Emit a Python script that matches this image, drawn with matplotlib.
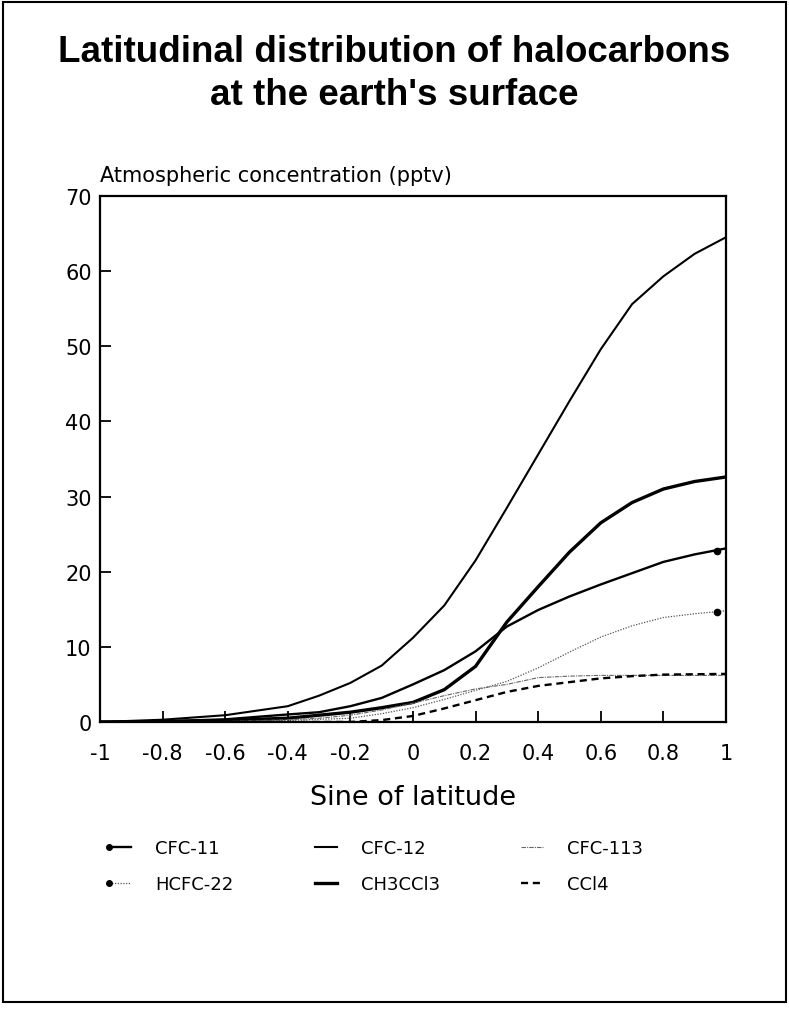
import matplotlib.pyplot as plt
from matplotlib.legend_handler import HandlerLine2D
from matplotlib.lines import Line2D
from matplotlib.patches import Rectangle

# ----------------------------------------------------------------- data
SINE = [-1.0, -0.8, -0.6, -0.4, -0.3, -0.2, -0.1, 0.0, 0.1, 0.2, 0.3, 0.4, 0.5,
        0.6, 0.7, 0.8, 0.9, 1.0]

CFC12 = [0.0, 0.3, 0.9, 2.1, 3.5, 5.2, 7.5, 11.2, 15.5, 21.5, 28.5, 35.6, 42.7,
         49.6, 55.6, 59.3, 62.3, 64.5]
CH3CCL3 = [0.0, 0.05, 0.2, 0.5, 0.9, 1.3, 1.9, 2.6, 4.3, 7.4, 13.3, 18.0, 22.6,
           26.5, 29.2, 31.0, 32.0, 32.6]
CFC11 = [0.0, 0.1, 0.35, 1.0, 1.3, 2.1, 3.2, 5.0, 6.9, 9.4, 12.7, 14.9, 16.7,
         18.3, 19.8, 21.3, 22.3, 23.1]
HCFC22 = [0.0, 0.0, 0.05, 0.2, 0.35, 0.5, 1.1, 1.9, 3.0, 4.2, 5.4, 7.2, 9.3,
          11.3, 12.8, 13.9, 14.4, 14.8]
CFC113 = [0.0, 0.0, 0.05, 0.3, 0.5, 0.9, 1.6, 2.5, 3.5, 4.4, 5.0, 5.9, 6.1,
          6.2, 6.2, 6.2, 6.2, 6.2]
CCL4 = [0.0, 0.0, 0.0, 0.0, 0.0, 0.0, 0.25, 0.8, 1.8, 2.9, 4.0, 4.8, 5.3,
        5.8, 6.1, 6.3, 6.35, 6.4]

# end markers for CFC-11 and HCFC-22 (drawn just inside the right edge)
MARK_X = 0.97
MARK_CFC11 = 22.8
MARK_HCFC22 = 14.6

X_TICKS = [-1, -0.8, -0.6, -0.4, -0.2, 0, 0.2, 0.4, 0.6, 0.8, 1]
X_TICK_LABELS = ["-1", "-0.8", "-0.6", "-0.4", "-0.2", "0", "0.2", "0.4", "0.6", "0.8", "1"]
Y_TICKS = [0, 10, 20, 30, 40, 50, 60, 70]

# ----------------------------------------------------------------- style
plt.rcParams["font.family"] = ["DejaVu Sans"]
TITLE_FONT = ["Liberation Sans", "DejaVu Sans"]

STYLES = {
    "CFC-11": dict(color="black", lw=1.7, ls="-"),
    "CFC-12": dict(color="black", lw=1.5, ls="-"),
    "CFC-113": dict(color="#666666", lw=0.8, ls=(0, (4, 1, 1, 1))),
    "HCFC-22": dict(color="#555555", lw=0.9, ls=(0, (1, 1.2))),
    "CH3CCl3": dict(color="black", lw=2.4, ls="-"),
    "CCl4": dict(color="black", lw=1.7, ls=(0, (3, 2))),
}


class MarkerFirst(HandlerLine2D):
    """Legend line with its marker only at the left end."""

    def create_artists(self, *args, **kwargs):
        arts = super().create_artists(*args, **kwargs)
        for a in arts:
            a.set_markevery([0])
        return arts


# ----------------------------------------------------------------- figure
fig = plt.figure(figsize=(7.89, 10.12), dpi=100)
fig.patches.append(Rectangle((0.004, 0.009), 0.992, 0.988, transform=fig.transFigure,
                             fill=False, lw=1.5, ec="black"))

ax = fig.add_axes([0.1267, 0.2856, 0.7934, 0.5198])

ax.plot(SINE, CFC12, **STYLES["CFC-12"])
ax.plot(SINE, CH3CCL3, **STYLES["CH3CCl3"])
ax.plot(SINE, CFC11, **STYLES["CFC-11"])
ax.plot(SINE, HCFC22, **STYLES["HCFC-22"])
ax.plot(SINE, CFC113, **STYLES["CFC-113"])
ax.plot(SINE, CCL4, **STYLES["CCl4"])
ax.plot([MARK_X], [MARK_CFC11], "o", color="black", ms=4.5)
ax.plot([MARK_X], [MARK_HCFC22], "o", color="black", ms=4.5)

ax.set_xlim(-1, 1)
ax.set_ylim(0, 70)
ax.set_xticks(X_TICKS)
ax.set_xticklabels(X_TICK_LABELS)
ax.set_yticks(Y_TICKS)
ax.tick_params(direction="in", length=8, width=1.3, labelsize=15)
ax.tick_params(axis="x", pad=15)
ax.tick_params(axis="y", pad=6)
for s in ax.spines.values():
    s.set_linewidth(1.6)

ax.set_xlabel("Sine of latitude", fontsize=19.5, labelpad=15)
fig.text(100 / 789, 1 - 182 / 1012, "Atmospheric concentration (pptv)", fontsize=15,
         ha="left", va="baseline")

fig.text(0.5, 1 - 62 / 1012, "Latitudinal distribution of halocarbons", fontsize=26.5,
         fontweight="bold", family=TITLE_FONT, ha="center", va="baseline")
fig.text(0.5, 1 - 105 / 1012, "at the earth's surface", fontsize=26.5,
         fontweight="bold", family=TITLE_FONT, ha="center", va="baseline")

# ----------------------------------------------------------------- legend
order = ["CFC-11", "HCFC-22", "CFC-12", "CH3CCl3", "CFC-113", "CCl4"]
handles = []
for name in order:
    h = Line2D([0, 1], [0, 0], **STYLES[name])
    if name in ("CFC-11", "HCFC-22"):
        h.set_marker("o")
        h.set_markersize(4)
        h.set_markerfacecolor("black")
        h.set_markeredgecolor("black")
    handles.append(h)

fig.legend(handles, order, ncol=3, numpoints=2,
           handler_map={Line2D: MarkerFirst()},
           loc="upper left", bbox_to_anchor=(104 / 789, 1 - 840 / 1012),
           borderaxespad=0, borderpad=0, frameon=False,
           fontsize=13, handlelength=1.8, handletextpad=1.05, columnspacing=4.2,
           labelspacing=1.0)

fig.savefig("out.png", dpi=100)
